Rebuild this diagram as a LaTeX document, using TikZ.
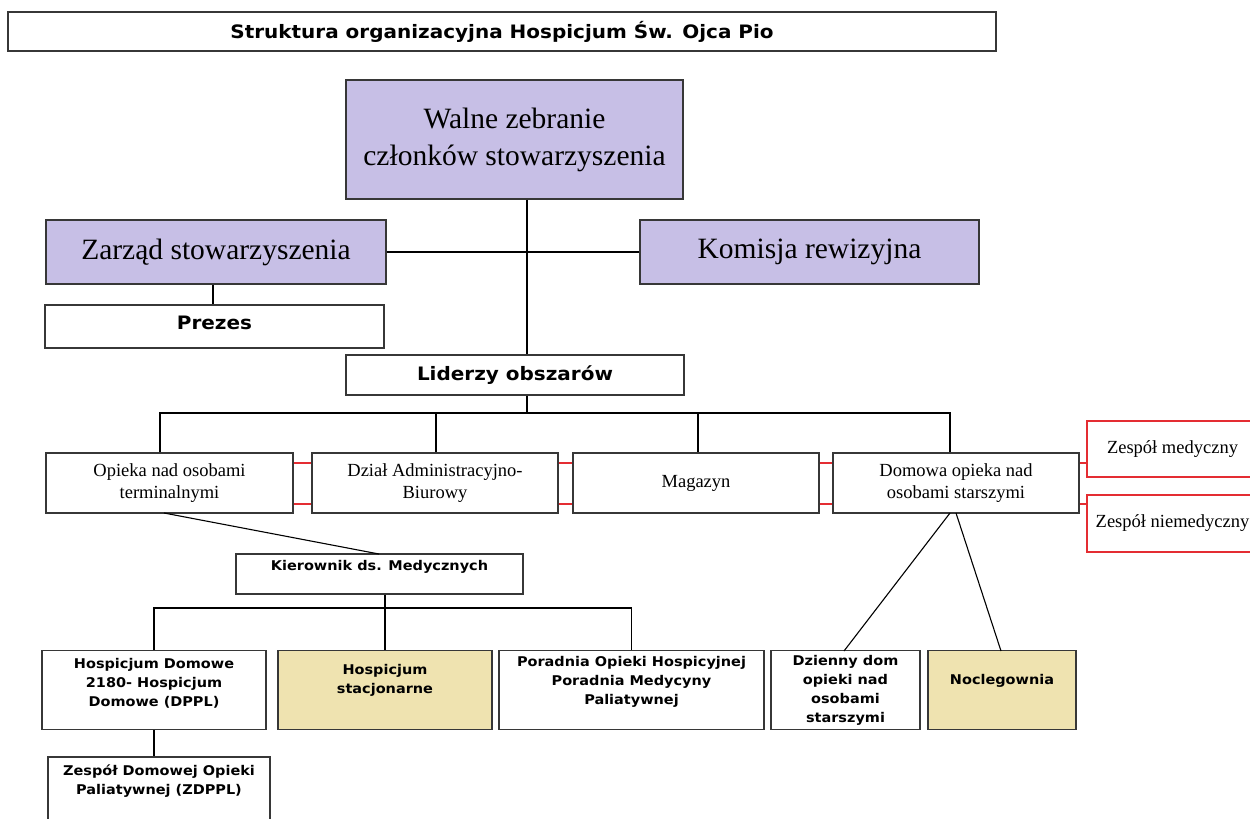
\documentclass[tikz,border=0pt]{standalone}
\usepackage{fontspec}
\setmainfont{Liberation Serif}
\newfontfamily\vsans[FakeStretch=1.08]{DejaVu Sans}
\definecolor{bordc}{RGB}{55,55,55}
\definecolor{lavc}{RGB}{199,191,230}
\definecolor{beigec}{RGB}{239,227,176}
\definecolor{redc}{RGB}{228,45,50}
\begin{document}
\begin{tikzpicture}[x=1pt,y=-1pt,
  box/.style={draw=bordc, line width=1.4pt, fill=white, inner sep=0pt, align=center},
  lav/.style={box, fill=lavc},
  beig/.style={box, fill=beigec},
  redbox/.style={box, draw=redc, line width=1.2pt},
  txt/.style={inner sep=0pt, align=center},
  conn/.style={draw=black, line width=1.1pt},
  redln/.style={draw=redc, line width=1.1pt},
  serifL/.style={font=\fontsize{29.5}{37}\selectfont},
  serifS/.style={font=\fontsize{18.5}{22}\selectfont},
  sansT/.style={font=\vsans\bfseries\fontsize{18.5}{21}\selectfont},
  sansS/.style={font=\vsans\bfseries\fontsize{13.4}{19}\selectfont},
]
\fill[white] (0,0) rectangle (1250,819);
\clip (0,0) rectangle (1250,819);

% title
\node[box, minimum width=988pt, minimum height=39pt, sansT] (title) at (502,31.5) {Struktura organizacyjna Hospicjum Św. Ojca Pio};

% top level
\node[lav, minimum width=337pt, minimum height=119pt, serifL] (walne) at (514.5,139.5) {Walne zebranie\\członków stowarzyszenia};
\node[lav, minimum width=340pt, minimum height=64pt, serifL] (zarzad) at (216,252) {Zarząd stowarzyszenia};
\node[lav, minimum width=339pt, minimum height=64pt, serifL] (komisja) at (809.5,252) {Komisja rewizyjna};
\node[box, minimum width=339pt, minimum height=43pt] (prezes) at (214.5,326.5) {};
\node[txt, sansT] (prezest) at (214.5,323) {Prezes};
\node[box, minimum width=338pt, minimum height=40pt, sansT] (liderzy) at (515,375) {Liderzy obszarów};

% middle row
\node[box, minimum width=247pt, minimum height=60pt, serifS] (opieka) at (169.5,483) {Opieka nad osobami\\terminalnymi};
\node[box, minimum width=246pt, minimum height=60pt, serifS] (dzial) at (435,483) {Dział Administracyjno-\\Biurowy};
\node[box, minimum width=246pt, minimum height=60pt, serifS] (magazyn) at (696,483) {Magazyn};
\node[box, minimum width=246pt, minimum height=60pt, serifS] (domowa) at (956,483) {Domowa opieka nad\\osobami starszymi};
\node[redbox, minimum width=175pt, minimum height=56pt] (zmed) at (1174.5,449) {};
\node[txt, serifS] (zmedt) at (1172.5,449) {Zespół medyczny};
\node[redbox, minimum width=175pt, minimum height=57pt] (zniem) at (1174.5,523.5) {};
\node[txt, serifS] (zniemt) at (1172.5,523.5) {Zespół niemedyczny};

% Kierownik
\node[box, minimum width=287pt, minimum height=40pt] (kier) at (379.5,574) {};
\node[txt, sansS] (kiert) at (379.5,567) {Kierownik ds. Medycznych};

% bottom row
\node[box, minimum width=224pt, minimum height=79pt] (hd) at (154,690) {};
\node[txt, sansS] (hdt) at (154,683) {Hospicjum Domowe\\2180- Hospicjum\\Domowe (DPPL)};
\node[beig, minimum width=214pt, minimum height=79pt] (hs) at (385,690) {};
\node[txt, sansS] (hst) at (385,680) {Hospicjum\\stacjonarne};
\node[box, minimum width=265pt, minimum height=79pt] (por) at (631.5,690) {};
\node[txt, sansS] (port) at (631.5,682) {Poradnia Opieki Hospicyjnej\\Poradnia Medycyny\\Paliatywnej};
\node[box, minimum width=149pt, minimum height=79pt] (dz) at (845.5,690) {};
\node[txt, sansS] (dzt) at (845.5,690) {Dzienny dom\\opieki nad\\osobami\\starszymi};
\node[beig, minimum width=148pt, minimum height=79pt] (noc) at (1002,690) {};
\node[txt, sansS] (noct) at (1002,681) {Noclegownia};
\node[box, minimum width=222pt, minimum height=73pt] (zd) at (159,793.5) {};
\node[txt, sansS] (zdt) at (159,781) {Zespół Domowej Opieki\\Paliatywnej (ZDPPL)};

% helper coordinates
\coordinate (trunk) at (527,0);
\coordinate (bus) at (0,413);
\coordinate (d1) at (160,0);
\coordinate (d2) at (436,0);
\coordinate (d3) at (698,0);
\coordinate (d4) at (950,0);
\coordinate (ra) at (0,463);
\coordinate (rb) at (0,504);
\coordinate (bus2) at (0,608);
\coordinate (k1) at (385,0);
\coordinate (os) at (164,513);
\coordinate (kn) at (379,554);
\coordinate (dsa) at (950,513);
\coordinate (dsb) at (956,513);
\coordinate (dzn) at (844,651);
\coordinate (nocn) at (1001,651);

% top connectors
\draw[conn] (walne.south -| trunk) -- (liderzy.north -| trunk);
\draw[conn] (zarzad.east) -- (komisja.west);
\draw[conn] (zarzad.south -| 213,0) -- (prezes.north -| 213,0);

% liderzy to middle row
\draw[conn] (liderzy.south -| trunk) -- (trunk |- bus);
\draw[conn] (d1 |- opieka.north) -- (d1 |- bus) -- (d4 |- bus) -- (d4 |- domowa.north);
\draw[conn] (d2 |- bus) -- (d2 |- dzial.north);
\draw[conn] (d3 |- bus) -- (d3 |- magazyn.north);

% red links
\draw[redln] (opieka.east |- ra) -- (dzial.west |- ra);
\draw[redln] (opieka.east |- rb) -- (dzial.west |- rb);
\draw[redln] (dzial.east |- ra) -- (magazyn.west |- ra);
\draw[redln] (dzial.east |- rb) -- (magazyn.west |- rb);
\draw[redln] (magazyn.east |- ra) -- (domowa.west |- ra);
\draw[redln] (magazyn.east |- rb) -- (domowa.west |- rb);
\draw[redln] (domowa.east |- ra) -- (zmed.west |- ra);
\draw[redln] (domowa.east |- rb) -- (zniem.west |- rb);

% Opieka to Kierownik
\draw[conn] (os) -- (kn);

% Kierownik to bottom
\draw[conn] (kier.south -| k1) -- (k1 |- bus2);
\draw[conn] (hd.north) -- (hd.north |- bus2) -- (por.north |- bus2) -- (por.north);
\draw[conn] (k1 |- bus2) -- (k1 |- hs.north);
\draw[conn] (hd.south) -- (hd.south |- zd.north);

% Domowa to Dzienny / Noclegownia
\draw[conn] (dsa) -- (dzn);
\draw[conn] (dsb) -- (nocn);
\end{tikzpicture}
\end{document}
